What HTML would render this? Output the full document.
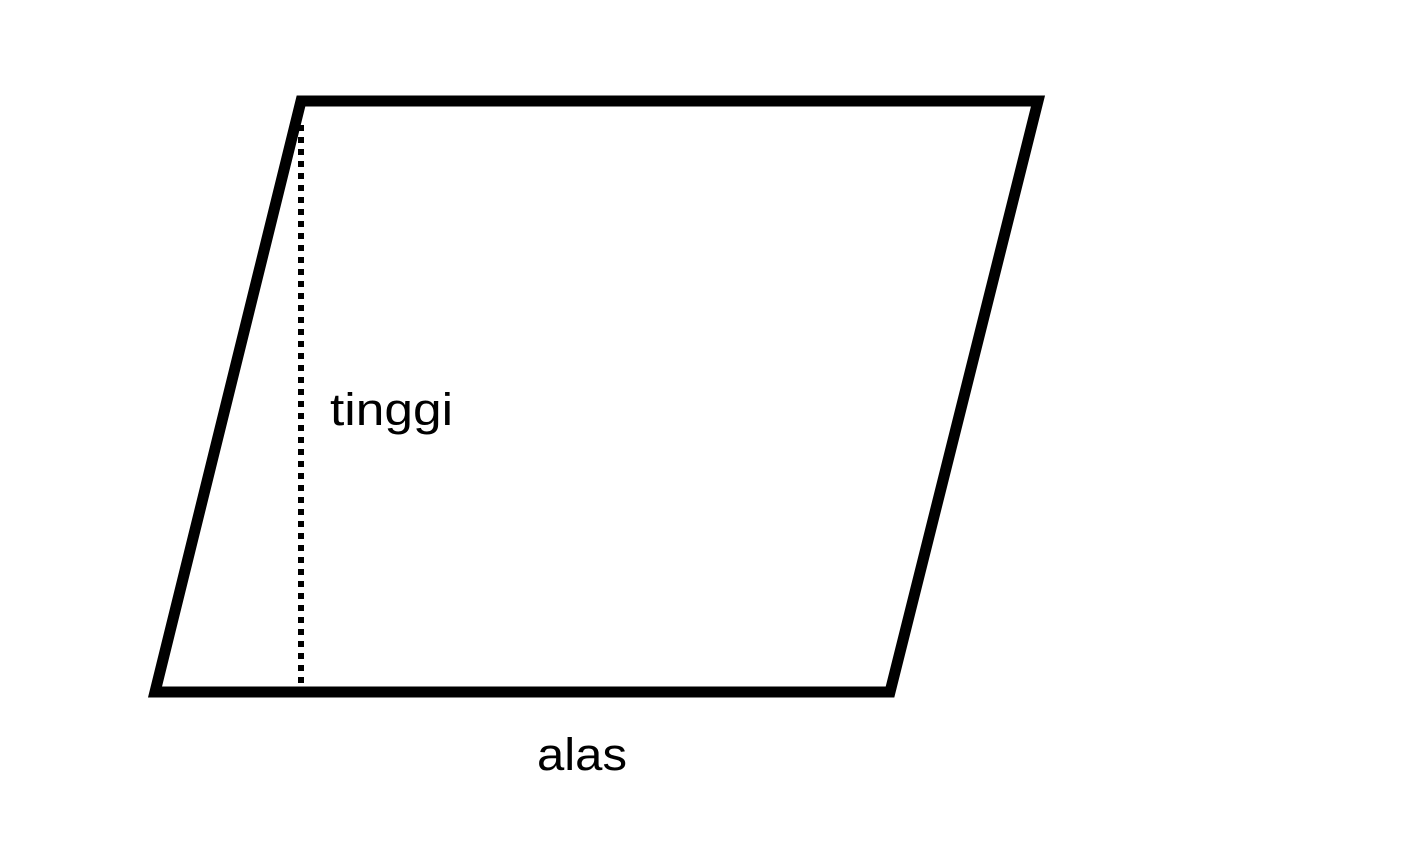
<!DOCTYPE html>
<html><head><meta charset="utf-8">
<style>
html,body{margin:0;padding:0;background:#fff;}
svg{display:block;}
text{font-family:"Liberation Sans",sans-serif;font-size:45px;fill:#000;}
</style></head>
<body>
<svg width="1416" height="843" viewBox="0 0 1416 843">
  <polygon points="301,101 1038,101 890,692 155,692" fill="none" stroke="#000" stroke-width="11" stroke-linejoin="miter"/>
  <line x1="301" y1="125" x2="301" y2="686" stroke="#000" stroke-width="6" stroke-dasharray="6 6"/>
  <text x="330" y="425" textLength="123" lengthAdjust="spacingAndGlyphs">tinggi</text>
  <text x="537" y="770" textLength="90" lengthAdjust="spacingAndGlyphs">alas</text>
</svg>
</body></html>
